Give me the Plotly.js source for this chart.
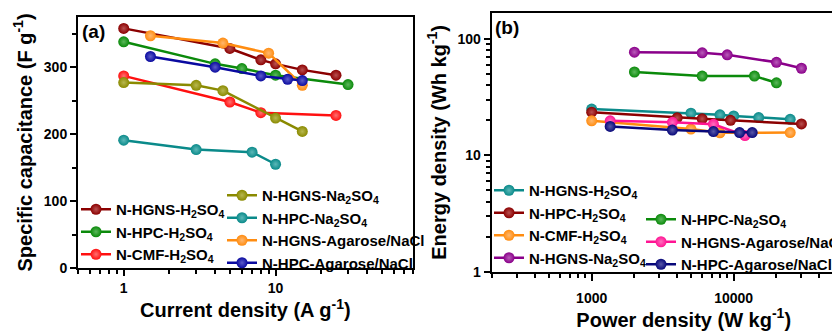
<!DOCTYPE html>
<html>
<head>
<meta charset="utf-8">
<script src="https://cdn.plot.ly/plotly-3.0.1.min.js"></script>
<style>
html,body{margin:0;padding:0;overflow:hidden;background:#fff;}
#chart{width:900px;height:331px;}
</style>
</head>
<body>
<div id="chart"></div>
<script>
// ---------- Panel (a): specific capacitance vs current density ----------
const a_hgnsH2so4_x = [1, 5, 8, 10, 15, 25];
const a_hgnsH2so4_y = [358, 328, 311, 305, 296, 288];
const a_hpcH2so4_x = [1, 4, 6, 10, 30];
const a_hpcH2so4_y = [338, 305, 298, 288, 274];
const a_cmfH2so4_x = [1, 5, 8, 25];
const a_cmfH2so4_y = [287, 248, 232, 228];
const a_hgnsNa2so4_x = [1, 3, 4.5, 10, 15];
const a_hgnsNa2so4_y = [277, 273, 265, 224, 204];
const a_hpcNa2so4_x = [1, 3, 7, 10];
const a_hpcNa2so4_y = [191, 177, 173, 155];
const a_hgnsAgar_x = [1.5, 4.5, 9, 15];
const a_hgnsAgar_y = [347, 336, 321, 273];
const a_hpcAgar_x = [1.5, 4, 8, 12, 15];
const a_hpcAgar_y = [316, 300, 287, 282, 280];

// ---------- Panel (b): Ragone plot ----------
const b_hgnsH2so4_x = [1000, 5000, 8000, 10000, 15000, 25000];
const b_hgnsH2so4_y = [25, 23, 22.3, 21.8, 21.1, 20.4];
const b_hpcH2so4_x = [1000, 4000, 6000, 9500, 30000];
const b_hpcH2so4_y = [23.5, 21, 20.6, 20, 18.6];
const b_cmfH2so4_x = [1000, 5000, 8000, 25000];
const b_cmfH2so4_y = [19.8, 16.8, 15.6, 15.7];
const b_hgnsNa2so4_x = [2000, 6000, 9000, 20000, 30000];
const b_hgnsNa2so4_y = [77, 76, 73, 63, 56];
const b_hpcNa2so4_x = [2000, 6000, 14000, 20000];
const b_hpcNa2so4_y = [52, 48, 48, 42];
const b_hgnsAgar_x = [1350, 3700, 7200, 12000];
const b_hgnsAgar_y = [19.8, 19.2, 18.5, 14.8];
const b_hpcAgar_x = [1350, 3700, 7200, 11000, 13500];
const b_hpcAgar_y = [17.7, 16.5, 16, 15.7, 15.7];

// labels
const L = {
  hgnsH2so4: 'N-HGNS-H<sub>2</sub>SO<sub>4</sub>',
  hpcH2so4: 'N-HPC-H<sub>2</sub>SO<sub>4</sub>',
  cmfH2so4: 'N-CMF-H<sub>2</sub>SO<sub>4</sub>',
  hgnsNa2so4: 'N-HGNS-Na<sub>2</sub>SO<sub>4</sub>',
  hpcNa2so4: 'N-HPC-Na<sub>2</sub>SO<sub>4</sub>',
  hgnsAgar: 'N-HGNS-Agarose/NaCl',
  hpcAgar: 'N-HPC-Agarose/NaCl'
};

// [main colour, highlight colour]
const C = {
  darkred: ['#8b0000', '#b85050'], green: ['#0b8a0b', '#5cb85c'], red: ['#ff1010', '#ff7070'],
  olive: ['#8a8a00', '#b8b850'], teal: ['#0a8a8a', '#5cb8b8'], orange: ['#ff8c10', '#ffb870'],
  blue: ['#0a0aa0', '#5c5cc8'], purple: ['#8a008a', '#b85cb8'], pink: ['#ff1493', '#ff70be'],
  navy: ['#08087a', '#5858a8']
};

function tr(x, y, name, col, xa, ya, legend) {
  return {
    x: x, y: y, name: name, type: 'scatter', mode: 'lines+markers',
    xaxis: xa, yaxis: ya, legend: legend,
    line: {color: col[0], width: 2.5},
    marker: {color: col[0], size: 11, line: {width: 0},
             gradient: {type: 'radial', color: col[1]}}
  };
}

const data = [
  tr(a_hgnsH2so4_x, a_hgnsH2so4_y, L.hgnsH2so4, C.darkred, 'x', 'y', 'legend'),
  tr(a_hpcH2so4_x, a_hpcH2so4_y, L.hpcH2so4, C.green, 'x', 'y', 'legend'),
  tr(a_cmfH2so4_x, a_cmfH2so4_y, L.cmfH2so4, C.red, 'x', 'y', 'legend'),
  tr(a_hgnsNa2so4_x, a_hgnsNa2so4_y, L.hgnsNa2so4, C.olive, 'x', 'y', 'legend2'),
  tr(a_hpcNa2so4_x, a_hpcNa2so4_y, L.hpcNa2so4, C.teal, 'x', 'y', 'legend2'),
  tr(a_hgnsAgar_x, a_hgnsAgar_y, L.hgnsAgar, C.orange, 'x', 'y', 'legend2'),
  tr(a_hpcAgar_x, a_hpcAgar_y, L.hpcAgar, C.blue, 'x', 'y', 'legend2'),

  tr(b_hgnsH2so4_x, b_hgnsH2so4_y, L.hgnsH2so4, C.teal, 'x2', 'y2', 'legend3'),
  tr(b_hpcH2so4_x, b_hpcH2so4_y, L.hpcH2so4, C.darkred, 'x2', 'y2', 'legend3'),
  tr(b_cmfH2so4_x, b_cmfH2so4_y, L.cmfH2so4, C.orange, 'x2', 'y2', 'legend3'),
  tr(b_hgnsNa2so4_x, b_hgnsNa2so4_y, L.hgnsNa2so4, C.purple, 'x2', 'y2', 'legend3'),
  tr(b_hpcNa2so4_x, b_hpcNa2so4_y, L.hpcNa2so4, C.green, 'x2', 'y2', 'legend4'),
  tr(b_hgnsAgar_x, b_hgnsAgar_y, L.hgnsAgar, C.pink, 'x2', 'y2', 'legend4'),
  tr(b_hpcAgar_x, b_hpcAgar_y, L.hpcAgar, C.navy, 'x2', 'y2', 'legend4')
];

const W = 900, H = 331;
const px = v => v / W;
const py = v => 1 - v / H;
const FONT = 'Liberation Sans, Arial, sans-serif';
const tickFont = {family: FONT, size: 14, color: '#000', weight: 'bold'};
const titleFont = {family: FONT, size: 20, color: '#000', weight: 'bold'};
const legFont = {family: FONT, size: 15, color: '#000', weight: 'bold'};

function axisBase() {
  return {
    showline: true, linecolor: '#000', linewidth: 2, mirror: true,
    ticks: 'outside', ticklen: 6, tickwidth: 2, tickcolor: '#000',
    showgrid: false, zeroline: false, tickfont: tickFont
  };
}

function leg(xpx, ypx) {
  return {x: px(xpx), y: py(ypx), xanchor: 'left', yanchor: 'top',
          bgcolor: 'rgba(0,0,0,0)', borderwidth: 0, font: legFont,
          itemwidth: 30, tracegroupgap: 0};
}

const layout = {
  width: W, height: H,
  margin: {l: 0, r: 0, t: 0, b: 0},
  paper_bgcolor: '#fff', plot_bgcolor: '#fff',
  showlegend: true,
  xaxis: Object.assign(axisBase(), {
    type: 'log', domain: [px(78), px(412.7)],
    range: [Math.log10(0.5), Math.log10(80)],
    tickvals: [1, 10], ticktext: ['1', '10'],
    minor: {ticks: 'outside', ticklen: 4, tickwidth: 2, tickcolor: '#000', dtick: 'D1', showgrid: false},
    title: {text: 'Current density (A g<sup>-1</sup>)', font: titleFont, standoff: 8},
    anchor: 'y'
  }),
  yaxis: Object.assign(axisBase(), {
    domain: [1 - 268 / H, 1 - 17 / H],
    range: [0, 375], tickvals: [0, 100, 200, 300],
    minor: {ticks: 'outside', ticklen: 4, tickwidth: 2, tickcolor: '#000', dtick: 50, showgrid: false},
    title: {text: 'Specific capacitance (F g<sup>-1</sup>)', font: titleFont, standoff: 6},
    anchor: 'x'
  }),
  xaxis2: Object.assign(axisBase(), {
    type: 'log', domain: [px(491.7), px(875.7)],
    range: [2.296, 5],
    ticklen: 7, ticklabelstandoff: 5,
    tickvals: [1000, 10000], ticktext: ['1000', '10000'],
    minor: {ticks: 'outside', ticklen: 4, tickwidth: 2, tickcolor: '#000', dtick: 'D1', showgrid: false},
    title: {text: 'Power density (W kg<sup>-1</sup>)', font: titleFont, standoff: 8},
    anchor: 'y2'
  }),
  yaxis2: Object.assign(axisBase(), {
    type: 'log', domain: [1 - 271.7 / H, 1 - 13 / H],
    range: [0, 2.223],
    tickvals: [1, 10, 100], ticktext: ['1', '10', '100'],
    minor: {ticks: 'outside', ticklen: 4, tickwidth: 2, tickcolor: '#000', dtick: 'D1', showgrid: false},
    title: {text: 'Energy density (Wh kg<sup>-1</sup>)', font: titleFont, standoff: 6},
    anchor: 'x2'
  }),
  legend: leg(76, 193),
  legend2: leg(222, 179),
  legend3: leg(489, 174),
  legend4: leg(641, 203),
  annotations: [
    {text: '(a)', xref: 'paper', yref: 'paper', x: px(80), y: py(19), xanchor: 'left', yanchor: 'top',
     showarrow: false, font: {family: FONT, size: 19, color: '#000', weight: 'bold'}},
    {text: '(b)', xref: 'paper', yref: 'paper', x: px(493), y: py(15), xanchor: 'left', yanchor: 'top',
     showarrow: false, font: {family: FONT, size: 19, color: '#000', weight: 'bold'}}
  ]
};

Plotly.newPlot('chart', data, layout, {displayModeBar: false, staticPlot: true});
</script>
</body>
</html>
